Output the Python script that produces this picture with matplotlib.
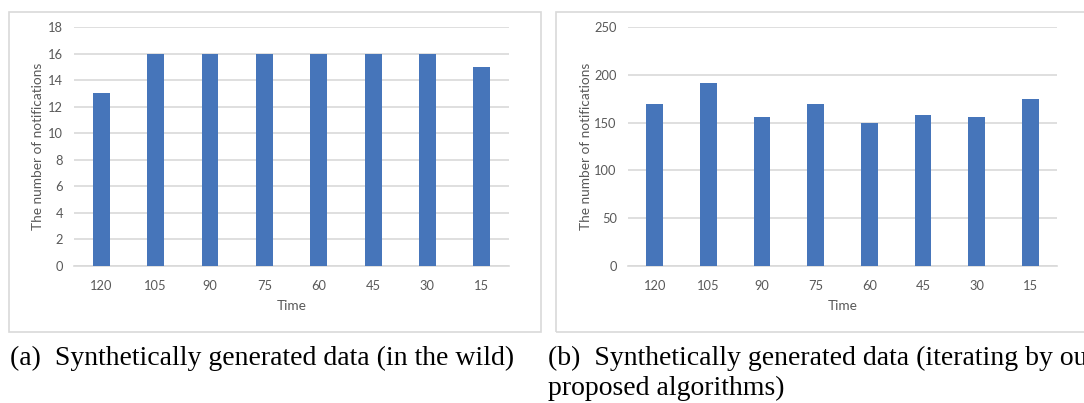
import matplotlib.pyplot as plt
from matplotlib.patches import Rectangle
import numpy as np

# notification counts per time window (minutes remaining)
time_labels = ['120', '105', '90', '75', '60', '45', '30', '15']
counts_wild = [13, 16, 16, 16, 16, 16, 16, 15]
counts_iter = [169, 191, 156, 169, 150, 158, 156, 175]

bar_color = '#4675BA'
grid_color = '#D9D9D9'
text_color = '#595959'

plt.rcParams['font.family'] = ['Lato', 'DejaVu Sans']

fig = plt.figure(figsize=(10.84, 4.03), dpi=100)

# light frames around each chart area
for x0, w in [(0.0083, 0.4908), (0.5129, 0.52)]:
    fig.patches.append(Rectangle((x0, 0.176), w, 0.794, transform=fig.transFigure,
                                 fill=False, edgecolor=grid_color, linewidth=1.2))


def draw_panel(rect, values, ymax, ystep, ylab_x):
    ax = fig.add_axes(rect)
    x = np.arange(len(values))
    ax.bar(x, values, width=0.31, color=bar_color, zorder=3)
    ax.set_xlim(-0.5, len(values) - 0.5)
    ax.set_ylim(0, ymax)
    ax.set_yticks(np.arange(0, ymax + 1, ystep))
    ax.set_xticks(x)
    ax.set_xticklabels(time_labels)
    ax.yaxis.grid(True, color=grid_color, linewidth=1.2, zorder=0)
    for s in ['top', 'right', 'left']:
        ax.spines[s].set_visible(False)
    ax.spines['bottom'].set_color(grid_color)
    ax.spines['bottom'].set_linewidth(1.2)
    ax.tick_params(length=0, labelsize=9.3, colors=text_color, pad=10)
    ax.tick_params(axis='y', pad=8)
    ax.set_xlabel('Time', fontsize=9.8, color=text_color, labelpad=6)
    ax.set_ylabel('The number of notifications', fontsize=9.8, color=text_color)
    ax.yaxis.set_label_coords(ylab_x, 0.5)
    return ax


draw_panel([0.0683, 0.340, 0.4013, 0.593], counts_wild, 18, 2, -0.069)
draw_panel([0.5793, 0.340, 0.3958, 0.593], counts_iter, 250, 50, -0.083)

cap_kw = dict(fontsize=20, family='Liberation Serif', color='black', va='center')
fig.text(0.009, (403 - 358) / 403, '(a)  Synthetically generated data (in the wild)', **cap_kw)
fig.text(0.5055, (403 - 358) / 403, '(b)  Synthetically generated data (iterating by our', **cap_kw)
fig.text(0.5055, (403 - 388) / 403, 'proposed algorithms)', **cap_kw)

fig.savefig('out.png', dpi=100)
